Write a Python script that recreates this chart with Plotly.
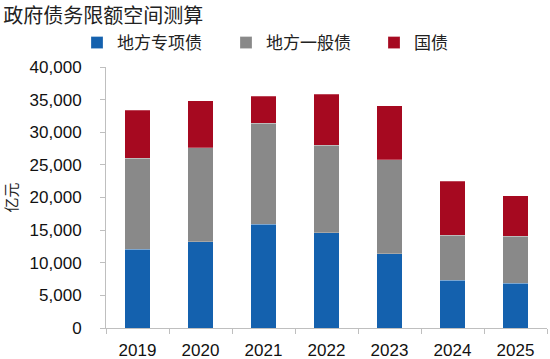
import plotly.graph_objects as go

years = ["2019", "2020", "2021", "2022", "2023", "2024", "2025"]
special = [12100, 13200, 15900, 14600, 11400, 7350, 6850]
general = [13900, 14400, 15500, 13400, 14400, 6900, 7200]
national = [7350, 7250, 4150, 7850, 8300, 8250, 6250]

series_names = ["地方专项债", "地方一般债", "国债"]
colors = ["#1461AE", "#898989", "#A60920"]
font_cjk = "Noto Sans CJK SC"
font_num = "Liberation Sans, Arial"

W, H = 550, 359
legend_text_x = [116, 265, 413]
legend_ids = ["legend", "legend2", "legend3"]

fig = go.Figure()
for name, vals, col, lid in zip(series_names, [special, general, national], colors, legend_ids):
    fig.add_bar(x=years, y=vals, name=name, legend=lid,
                marker=dict(color=col, line=dict(color="rgba(255,255,255,0.5)", width=0.5)))

legend_common = dict(orientation="h", xref="container", yref="container", xanchor="left", yanchor="middle",
                     y=1 - 43 / H, font=dict(family=font_cjk, size=17, color="#222"),
                     bgcolor="rgba(0,0,0,0)", itemclick=False, itemdoubleclick=False)
legends = {}
for lid, tx in zip(legend_ids, legend_text_x):
    legends[lid] = dict(legend_common, x=(tx - 39) / W)

fig.update_layout(
    barmode="stack",
    bargap=0.6,
    width=W, height=H,
    margin=dict(l=106, r=3, t=67, b=31, autoexpand=False),
    paper_bgcolor="white", plot_bgcolor="white",
    title=dict(text="政府债务限额空间测算", x=0.006, xref="container", y=1 - 16 / H, yref="container",
               xanchor="left", yanchor="middle", font=dict(family=font_cjk, size=20, color="#222")),
    showlegend=True,
    **legends,
)
fig.update_xaxes(showline=True, linecolor="#BFBFBF", linewidth=1, ticks="outside", tickson="boundaries",
                 ticklen=5, tickcolor="#BFBFBF", automargin=False, ticklabelstandoff=7,
                 tickfont=dict(family=font_num, size=17, color="#111"))
fig.update_yaxes(range=[0, 40000], dtick=5000, tickformat=",d", showgrid=False, showline=True,
                 linecolor="#BFBFBF", linewidth=1, ticks="outside", ticklen=5, tickcolor="#BFBFBF",
                 automargin=False, ticklabelstandoff=15,
                 tickfont=dict(family=font_num, size=17, color="#111"),
                 title=dict(text="亿元", font=dict(family=font_cjk, size=15, color="#222")))

fig.write_html("out.html", config={"displayModeBar": False},
               post_script="document.body.style.margin='0';document.body.style.overflow='hidden';")
